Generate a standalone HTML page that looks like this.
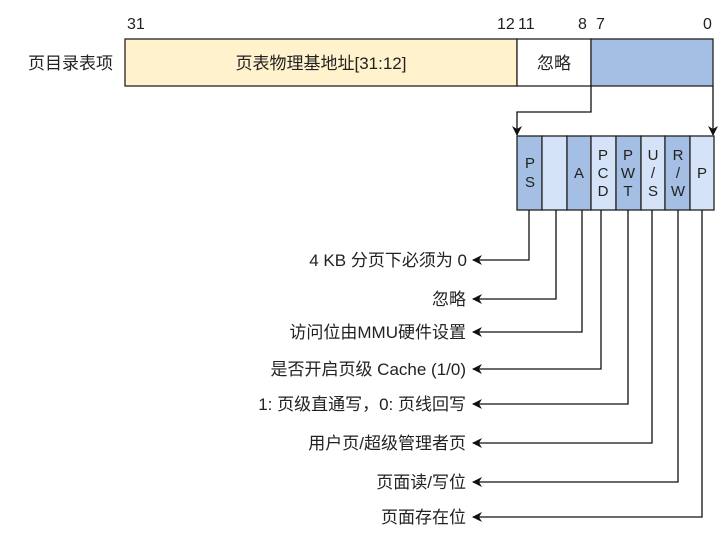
<!DOCTYPE html>
<html><head><meta charset="utf-8"><style>
html,body{margin:0;padding:0;background:#fff;}
svg{display:block;font-family:"Liberation Sans","Noto Sans CJK SC",sans-serif;}
</style></head><body>
<svg width="720" height="550" viewBox="0 0 720 550" xmlns="http://www.w3.org/2000/svg">
<defs>
<marker id="a" markerWidth="10" markerHeight="10" refX="9" refY="5" orient="auto" markerUnits="userSpaceOnUse">
<path d="M0,0 L10,5 L0,10 L3,5 Z" fill="#111"/>
</marker>
</defs>
<g font-size="16" fill="#222">
<text x="127" y="29">31</text>
<text x="497" y="29">12</text>
<text x="518" y="29">11</text>
<text x="578" y="29">8</text>
<text x="596" y="29">7</text>
<text x="703" y="29">0</text>
<text x="113" y="69" text-anchor="end" font-size="17">页目录表项</text>
</g>
<rect x="125" y="39" width="392" height="47" fill="#fff2cc" stroke="#222" stroke-width="1.3"/>
<rect x="517" y="39" width="74" height="47" fill="#fff" stroke="#222" stroke-width="1.3"/>
<rect x="591" y="39" width="122" height="47" fill="#a4bfe3" stroke="#222" stroke-width="1.3"/>
<text x="321" y="69" font-size="17" text-anchor="middle" fill="#222">页表物理基地址[31:12]</text>
<text x="554" y="69" font-size="17" text-anchor="middle" fill="#222">忽略</text>
<g stroke="#111" stroke-width="1.3" fill="none">
<path d="M591,86 V112 H517 V135" marker-end="url(#a)"/>
<path d="M713,86 V135" marker-end="url(#a)"/>
</g>
<g stroke="#222" stroke-width="1.3">
<rect x="517" y="136" width="25" height="74" fill="#a4bfe3"/>
<rect x="542" y="136" width="25" height="74" fill="#d4e3f7"/>
<rect x="567" y="136" width="24" height="74" fill="#a4bfe3"/>
<rect x="591" y="136" width="25" height="74" fill="#d4e3f7"/>
<rect x="616" y="136" width="25" height="74" fill="#a4bfe3"/>
<rect x="641" y="136" width="24" height="74" fill="#d4e3f7"/>
<rect x="665" y="136" width="25" height="74" fill="#a4bfe3"/>
<rect x="690" y="136" width="24" height="74" fill="#d4e3f7"/>
</g>
<g font-size="15" fill="#222" text-anchor="middle">
<text x="530" y="168">P</text><text x="530" y="187">S</text>
<text x="579" y="178">A</text>
<text x="603" y="160">P</text><text x="603" y="178">C</text><text x="603" y="196">D</text>
<text x="628" y="160">P</text><text x="628" y="178">W</text><text x="628" y="196">T</text>
<text x="653" y="160">U</text><text x="653" y="178">/</text><text x="653" y="196">S</text>
<text x="678" y="160">R</text><text x="678" y="178">/</text><text x="678" y="196">W</text>
<text x="702" y="178">P</text>
</g>
<g stroke="#111" stroke-width="1.3" fill="none">
<path d="M529,210 V260 H473" marker-end="url(#a)"/>
<path d="M556,210 V299 H473" marker-end="url(#a)"/>
<path d="M582,210 V332 H473" marker-end="url(#a)"/>
<path d="M601,210 V369 H473" marker-end="url(#a)"/>
<path d="M628,210 V404 H473" marker-end="url(#a)"/>
<path d="M652,210 V443 H473" marker-end="url(#a)"/>
<path d="M678,210 V482 H473" marker-end="url(#a)"/>
<path d="M702,210 V517 H473" marker-end="url(#a)"/>
</g>
<g font-size="17" fill="#222" text-anchor="end">
<text x="467" y="266">4 KB 分页下必须为 0</text>
<text x="466" y="305">忽略</text>
<text x="466" y="338">访问位由MMU硬件设置</text>
<text x="466" y="375">是否开启页级 Cache (1/0)</text>
<text x="466" y="410">1: 页级直通写，0: 页线回写</text>
<text x="466" y="449">用户页/超级管理者页</text>
<text x="466" y="488">页面读/写位</text>
<text x="466" y="523">页面存在位</text>
</g>
</svg>
</body></html>
